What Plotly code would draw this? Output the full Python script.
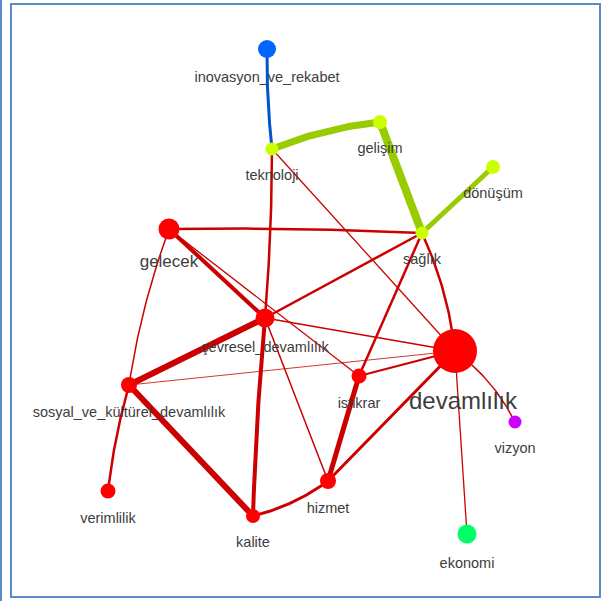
import numpy as np
import plotly.graph_objects as go

# ---- data ----
nodes = ["inovasyon_ve_rekabet", "teknoloji", "gelişim", "dönüşüm", "sağlık",
         "gelecek", "çevresel_devamlılık", "devamlılık", "istikrar",
         "sosyal_ve_kültürel_devamlılık", "verimlilik", "kalite", "hizmet",
         "ekonomi", "vizyon"]
node_x = [267, 272, 380, 493, 422, 169, 265, 455, 359, 129, 108, 253, 328, 467, 515]
node_y = [49, 149, 122, 167, 233, 229, 318, 351, 376, 385, 491, 516, 481, 534, 422]
node_weight = [18, 13, 14, 14, 13, 21, 19, 44, 15, 16, 15, 14, 16, 19, 13]
node_group = ["blue", "lime", "lime", "lime", "lime", "red", "red", "red", "red",
              "red", "red", "red", "red", "green", "purple"]

edge_source = ["inovasyon_ve_rekabet", "teknoloji", "gelişim", "dönüşüm",
               "teknoloji", "teknoloji", "gelecek", "gelecek", "gelecek", "gelecek",
               "sağlık", "sağlık", "sağlık", "çevresel_devamlılık", "çevresel_devamlılık",
               "çevresel_devamlılık", "çevresel_devamlılık", "sosyal_ve_kültürel_devamlılık",
               "sosyal_ve_kültürel_devamlılık", "sosyal_ve_kültürel_devamlılık",
               "istikrar", "istikrar", "kalite", "hizmet", "devamlılık", "devamlılık"]
edge_target = ["teknoloji", "gelişim", "sağlık", "sağlık",
               "çevresel_devamlılık", "devamlılık", "sağlık", "çevresel_devamlılık", "istikrar",
               "sosyal_ve_kültürel_devamlılık",
               "çevresel_devamlılık", "istikrar", "devamlılık", "sosyal_ve_kültürel_devamlılık",
               "kalite", "hizmet", "devamlılık", "devamlılık",
               "kalite", "verimlilik",
               "devamlılık", "hizmet", "hizmet", "devamlılık", "ekonomi", "vizyon"]
edge_weight = [3, 7, 8, 5,
               2.5, 1.3, 2.5, 4, 1.3, 1.5,
               2.5, 2.5, 2.5, 6,
               4, 1.5, 1.3, 0.8,
               6, 2.5,
               2, 5, 3, 3, 1.3, 1.5]

# ---- styles ----
group_node_color = {"blue": "#0066ff", "lime": "#ccff00", "red": "#ff0000",
                    "green": "#00ff66", "purple": "#cc00ff"}
group_edge_color = {"blue": "#0055cc", "lime": "#99cc00", "red": "#cc0000",
                    "green": "#cc0000", "purple": "#cc0000"}
curvature = {("inovasyon_ve_rekabet", "teknoloji"): 0.03,
             ("teknoloji", "gelişim"): -0.07,
             ("teknoloji", "çevresel_devamlılık"): -0.02,
             ("sağlık", "devamlılık"): -0.08,
             ("gelecek", "sosyal_ve_kültürel_devamlılık"): 0.05,
             ("sosyal_ve_kültürel_devamlılık", "verimlilik"): 0.04,
             ("kalite", "hizmet"): 0.1,
             ("devamlılık", "vizyon"): -0.12,
             ("gelecek", "sağlık"): -0.015,
             ("çevresel_devamlılık", "kalite"): 0.015}
label_size = {"gelecek": 17, "devamlılık": 24}
label_dx = {"devamlılık": 8}
FONT = "Liberation Sans Narrow, Arial Narrow, Liberation Sans, Arial, sans-serif"

idx = {n: i for i, n in enumerate(nodes)}
fig = go.Figure()

t = np.linspace(0, 1, 40)
for s, tg, w in zip(edge_source, edge_target, edge_weight):
    a, b = idx[s], idx[tg]
    x0, y0, x1, y1 = node_x[a], node_y[a], node_x[b], node_y[b]
    dx, dy = x1 - x0, y1 - y0
    L = np.hypot(dx, dy)
    c = curvature.get((s, tg), 0.0)
    cx = (x0 + x1) / 2 + c * L * (-dy / L)
    cy = (y0 + y1) / 2 + c * L * (dx / L)
    xs = (1 - t) ** 2 * x0 + 2 * (1 - t) * t * cx + t ** 2 * x1
    ys = (1 - t) ** 2 * y0 + 2 * (1 - t) * t * cy + t ** 2 * y1
    grp = node_group[a] if node_group[a] == node_group[b] else "red"
    if s == "inovasyon_ve_rekabet":
        grp = "blue"
    fig.add_trace(go.Scatter(x=xs, y=ys, mode="lines", hoverinfo="skip",
                             line=dict(color=group_edge_color[grp], width=w),
                             showlegend=False))

fig.add_trace(go.Scatter(
    x=node_x, y=node_y, mode="markers", hovertext=nodes, hoverinfo="text",
    marker=dict(size=node_weight, color=[group_node_color[g] for g in node_group],
                opacity=1, line=dict(width=0)),
    opacity=1, showlegend=False))

lab_sizes = [label_size.get(n, 14.5) for n in nodes]
lab_x = [node_x[i] + label_dx.get(n, 0) for i, n in enumerate(nodes)]
lab_y = [node_y[i] + node_weight[i] / 2 + lab_sizes[i] + 6 for i in range(len(nodes))]
fig.add_trace(go.Scatter(
    x=lab_x, y=lab_y, mode="text", text=nodes, textposition="middle center",
    textfont=dict(family=FONT, size=lab_sizes, color="#3d3d3d"),
    hoverinfo="skip", showlegend=False))

fig.update_layout(
    width=603, height=601, margin=dict(l=0, r=0, t=0, b=0),
    paper_bgcolor="white", plot_bgcolor="white",
    xaxis=dict(range=[0, 603], visible=False, fixedrange=True),
    yaxis=dict(range=[601, 0], visible=False, fixedrange=True),
    shapes=[
        dict(type="rect", xref="x", yref="y", x0=11, x1=600, y0=4, y1=597,
             line=dict(color="#5b8bc9", width=2)),
        dict(type="line", xref="x", yref="y", x0=1, x1=1, y0=0, y1=601,
             line=dict(color="#5b8bc9", width=2)),
    ],
)
fig.write_html("out.html", config={"displayModeBar": False},
               post_script="document.body.style.margin='0';document.body.style.overflow='hidden';")
